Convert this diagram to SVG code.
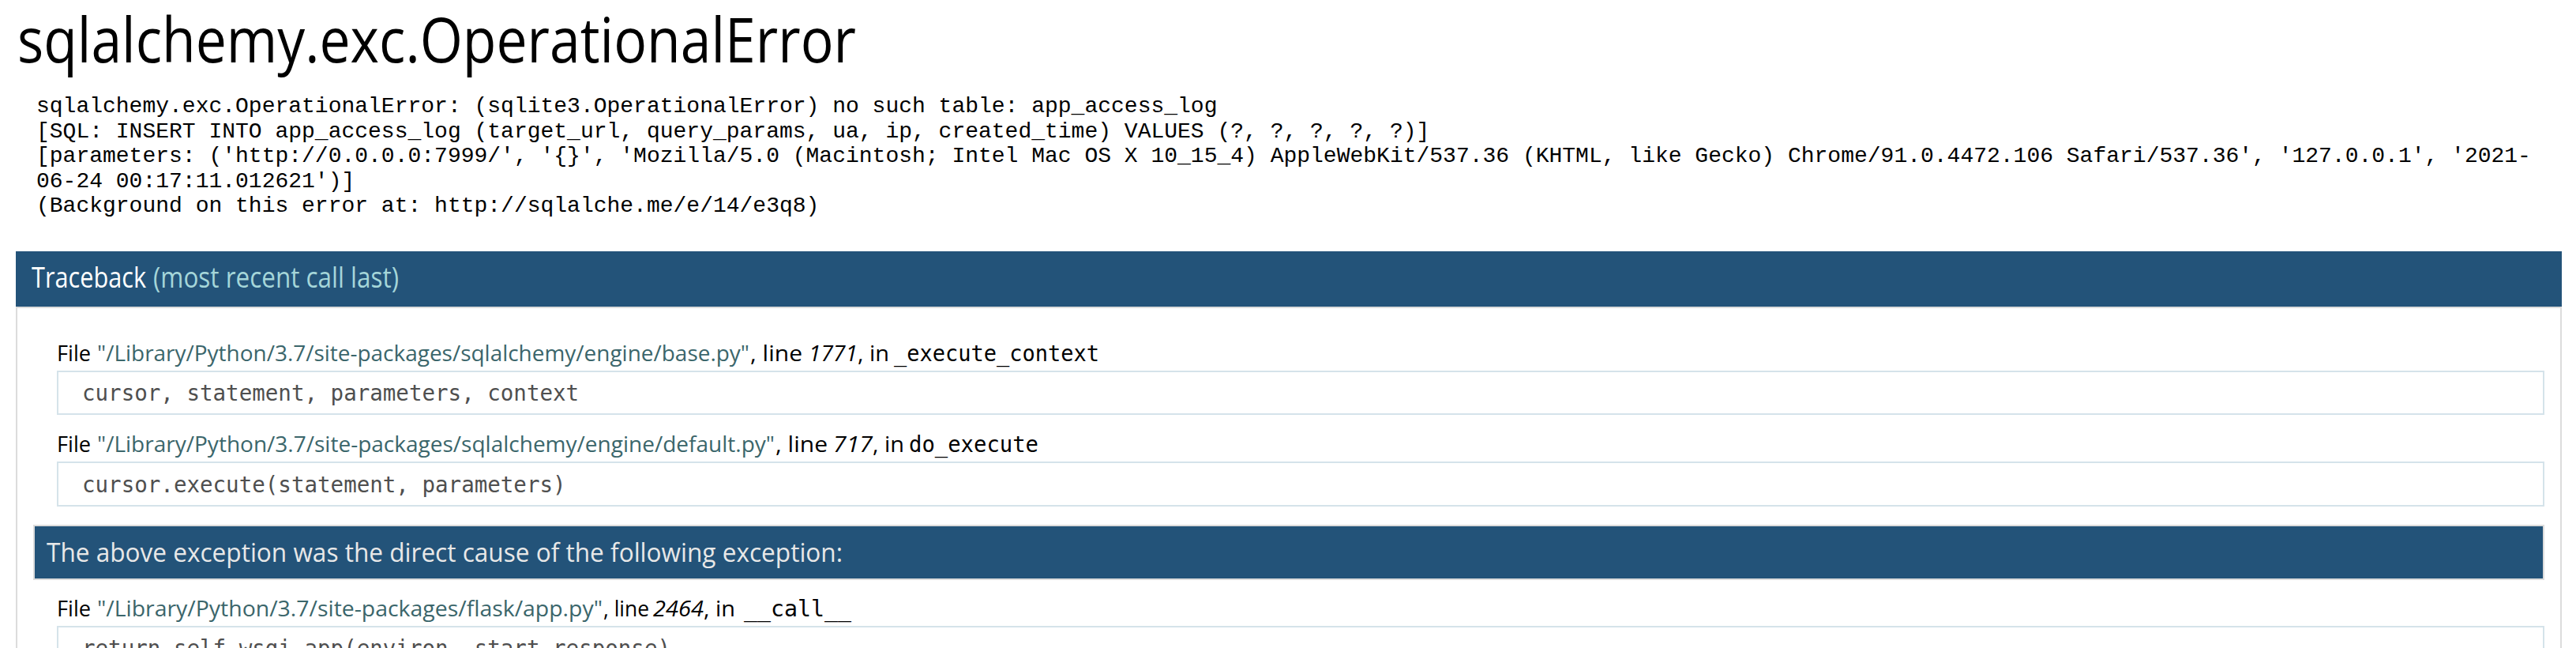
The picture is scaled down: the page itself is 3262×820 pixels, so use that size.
<svg xmlns="http://www.w3.org/2000/svg" width="3262" height="820" viewBox="0 0 3262 820">
<style>
.title{font-family:"Open Sans","Noto Sans","Liberation Sans",sans-serif;font-size:78px;fill:#000}
.err{font-family:"Liberation Mono","DejaVu Sans Mono",monospace;font-size:28px;fill:#000}
.hbar{fill:#235379}
.htxt{font-family:"Open Sans","Noto Sans","Liberation Sans",sans-serif;font-size:36px;fill:#fff}
.hem{fill:#a5d6d9}
.dtxt{font-family:"Open Sans","Noto Sans","Liberation Sans",sans-serif;font-size:33px;fill:#e8e8e8}
.box{fill:#fff;stroke:#dcdcdc;stroke-width:2}
.src{fill:#fff;stroke:#d5e3ea;stroke-width:2}
.fh{font-family:"Open Sans","Noto Sans","Liberation Sans",sans-serif;font-size:28px;fill:#000}
.fn{fill:#3b666b}
.ln{font-style:italic}
.fc{font-family:"DejaVu Sans Mono","Liberation Mono",monospace;font-size:28px;fill:#000}
.code{font-family:"DejaVu Sans Mono","Liberation Mono",monospace;font-size:27.5px;fill:#4f4f4f}
</style>
<rect width="3262" height="820" fill="#fff"/>
<g id="title">
<text class="title" x="22" y="79" textLength="1062" lengthAdjust="spacingAndGlyphs">sqlalchemy.exc.OperationalError</text>
</g>
<g id="errormsg">
<text class="err" x="46" y="142">sqlalchemy.exc.OperationalError: (sqlite3.OperationalError) no such table: app_access_log</text>
<text class="err" x="46" y="173.5">[SQL: INSERT INTO app_access_log (target_url, query_params, ua, ip, created_time) VALUES (?, ?, ?, ?, ?)]</text>
<text class="err" x="46" y="205">[parameters: ('http://0.0.0.0:7999/', '{}', 'Mozilla/5.0 (Macintosh; Intel Mac OS X 10_15_4) AppleWebKit/537.36 (KHTML, like Gecko) Chrome/91.0.4472.106 Safari/537.36', '127.0.0.1', '2021-</text>
<text class="err" x="46" y="236.5">06-24 00:17:11.012621')]</text>
<text class="err" x="46" y="268">(Background on this error at: http://sqlalche.me/e/14/e3q8)</text>
</g>
<g id="traceback">
<rect class="box" x="21" y="389" width="3222" height="500"/>
<rect class="hbar" x="20" y="318" width="3224" height="70"/>
<text class="htxt" x="40" y="364" textLength="145" lengthAdjust="spacingAndGlyphs">Traceback</text>
<text class="htxt hem" x="194" y="364" textLength="311" lengthAdjust="spacingAndGlyphs">(most recent call last)</text>
</g>
<g id="frame1">
<text class="fh" y="457"><tspan x="72" textLength="43" lengthAdjust="spacingAndGlyphs">File</tspan><tspan class="fn" x="123" textLength="826" lengthAdjust="spacingAndGlyphs">"/Library/Python/3.7/site-packages/sqlalchemy/engine/base.py"</tspan><tspan x="950" textLength="66" lengthAdjust="spacingAndGlyphs">, line</tspan><tspan class="ln" x="1024" textLength="62" lengthAdjust="spacingAndGlyphs">1771</tspan><tspan x="1086" textLength="40" lengthAdjust="spacingAndGlyphs">, in</tspan></text>
<text class="fc" x="1132" y="457" textLength="260" lengthAdjust="spacingAndGlyphs">_execute_context</text>
<rect class="src" x="73" y="470" width="3148" height="54"/>
<text class="code" x="104" y="507">cursor, statement, parameters, context</text>
</g>
<g id="frame2">
<text class="fh" y="572"><tspan x="72" textLength="43" lengthAdjust="spacingAndGlyphs">File</tspan><tspan class="fn" x="123" textLength="858" lengthAdjust="spacingAndGlyphs">"/Library/Python/3.7/site-packages/sqlalchemy/engine/default.py"</tspan><tspan x="982" textLength="66" lengthAdjust="spacingAndGlyphs">, line</tspan><tspan class="ln" x="1055" textLength="50" lengthAdjust="spacingAndGlyphs">717</tspan><tspan x="1105" textLength="40" lengthAdjust="spacingAndGlyphs">, in</tspan></text>
<text class="fc" x="1151" y="572" textLength="164" lengthAdjust="spacingAndGlyphs">do_execute</text>
<rect class="src" x="73" y="585" width="3148" height="55"/>
<text class="code" x="104" y="623">cursor.execute(statement, parameters)</text>
</g>
<g id="divider">
<rect class="hbar" x="43" y="665" width="3178" height="68" stroke="#dcdcdc" stroke-width="2"/>
<text class="dtxt" x="59" y="711" textLength="1008" lengthAdjust="spacingAndGlyphs">The above exception was the direct cause of the following exception:</text>
</g>
<g id="frame3">
<text class="fh" y="780"><tspan x="72" textLength="43" lengthAdjust="spacingAndGlyphs">File</tspan><tspan class="fn" x="123" textLength="640" lengthAdjust="spacingAndGlyphs">"/Library/Python/3.7/site-packages/flask/app.py"</tspan><tspan x="764" textLength="58" lengthAdjust="spacingAndGlyphs">, line</tspan><tspan class="ln" x="827" textLength="64" lengthAdjust="spacingAndGlyphs">2464</tspan><tspan x="891" textLength="40" lengthAdjust="spacingAndGlyphs">, in</tspan></text>
<text class="fc" x="942" y="780" textLength="136" lengthAdjust="spacingAndGlyphs">__call__</text>
<rect class="src" x="73" y="793" width="3148" height="100"/>
<text class="code" x="104" y="830">return self.wsgi_app(environ, start_response)</text>
</g>
</svg>
